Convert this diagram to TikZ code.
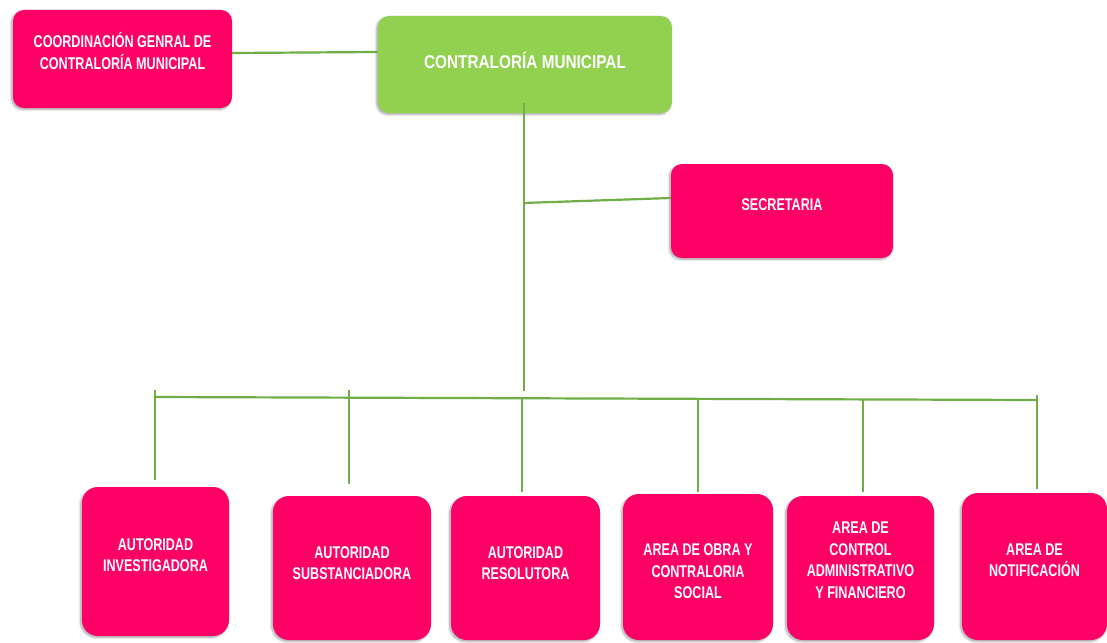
\documentclass[tikz,border=0pt]{standalone}
\usepackage{fontspec}
\setmainfont{Liberation Sans}[FakeStretch=0.74]
\newfontfamily\headfont{Liberation Sans}[FakeStretch=0.83]
\usetikzlibrary{calc,shadows.blur}

\definecolor{orgpink}{RGB}{255,0,102}
\definecolor{orggreen}{RGB}{146,208,80}
\definecolor{linkgreen}{RGB}{112,173,71}

\tikzset{
  orgbox/.style={draw=none, rounded corners=16pt, inner sep=0pt,
    blur shadow={shadow xshift=-1.5pt, shadow yshift=-1.5pt,
      shadow blur steps=6, shadow blur extra rounding=2pt, shadow opacity=35}},
  pinkbox/.style={orgbox, fill=orgpink},
  headbox/.style={orgbox, fill=orggreen, rounded corners=11pt},
  lbl/.style={text=white, align=center, inner sep=0pt,
    font=\bfseries\fontsize{17}{21.5}\selectfont},
  headlbl/.style={text=white, align=center, inner sep=0pt,
    font=\headfont\bfseries\fontsize{18.5}{22}\selectfont},
  link/.style={draw=linkgreen, line width=2.2pt}
}

\begin{document}
\begin{tikzpicture}[x=1pt, y=-1pt]
\useasboundingbox (0,0) rectangle (1107,642);

% upper level
\node[pinkbox, rounded corners=11pt, minimum width=219pt, minimum height=98pt] (coord) at (122.5,59) {};
\node[lbl] (coordT) at ($(coord.center)+(0,-8)$) {COORDINACIÓN GENRAL DE\\CONTRALORÍA MUNICIPAL};

\node[headbox, minimum width=294pt, minimum height=97pt] (contra) at (525,64.5) {};
\node[headlbl] (contraT) at ($(contra.center)+(0,-4.5)$) {CONTRALORÍA MUNICIPAL};

\node[pinkbox, rounded corners=11pt, minimum width=222pt, minimum height=94pt] (sec) at (782,211) {};
\node[lbl] (secT) at ($(sec.center)+(0,-6)$) {SECRETARIA};

% lower level
\node[pinkbox, minimum width=147pt, minimum height=149pt] (inv) at (155.5,561.5) {};
\node[lbl] (invT) at ($(inv.center)+(0,-6.5)$) {AUTORIDAD\\INVESTIGADORA};

\node[pinkbox, minimum width=158pt, minimum height=144pt] (sub) at (352,568) {};
\node[lbl] (subT) at ($(sub.center)+(0,-5)$) {AUTORIDAD\\SUBSTANCIADORA};

\node[pinkbox, minimum width=149pt, minimum height=144pt] (res) at (525.5,568) {};
\node[lbl] (resT) at ($(res.center)+(0,-5)$) {AUTORIDAD\\RESOLUTORA};

\node[pinkbox, minimum width=150pt, minimum height=146pt] (obra) at (698,567) {};
\node[lbl] (obraT) at ($(obra.center)+(0,4.5)$) {AREA DE OBRA Y\\CONTRALORIA\\SOCIAL};

\node[pinkbox, minimum width=147pt, minimum height=144pt] (ctrl) at (860.5,568) {};
\node[lbl] (ctrlT) at ($(ctrl.center)+(0,-8)$) {AREA DE\\CONTROL\\ADMINISTRATIVO\\Y FINANCIERO};

\node[pinkbox, minimum width=145pt, minimum height=147pt] (notif) at (1034.5,566.5) {};
\node[lbl] (notifT) at ($(notif.center)+(0,-6.5)$) {AREA DE\\NOTIFICACIÓN};

% junction points of the connector tree
\coordinate (secJ) at (523,203);
\coordinate (trunkEnd) at (524,391);
\coordinate (busL) at (155,397);
\coordinate (busR) at (1037,400);
\coordinate (jInv) at (155,390);
\coordinate (jSub) at (349,390);
\coordinate (jRes) at (522,398);
\coordinate (jObra) at (698,399);
\coordinate (jCtrl) at (863,399.5);
\coordinate (jNotif) at (1037,395);

% connectors
\draw[link] ([yshift=6pt]coord.east) -- ([yshift=12.5pt]contra.west);
\draw[link] ([yshift=10pt]contra.south -| trunkEnd) -- (trunkEnd);
\draw[link] (secJ) -- ([yshift=13pt]sec.west);
\draw[link] (busL) -- (busR);
\draw[link] (jInv) -- ([yshift=7pt]inv.north -| jInv);
\draw[link] (jSub) -- ([yshift=12pt]sub.north -| jSub);
\draw[link] (jRes) -- ([yshift=4pt]res.north -| jRes);
\draw[link] (jObra) -- ([yshift=2pt]obra.north -| jObra);
\draw[link] (jCtrl) -- ([yshift=4pt]ctrl.north -| jCtrl);
\draw[link] (jNotif) -- ([yshift=4pt]notif.north -| jNotif);
\end{tikzpicture}
\end{document}
